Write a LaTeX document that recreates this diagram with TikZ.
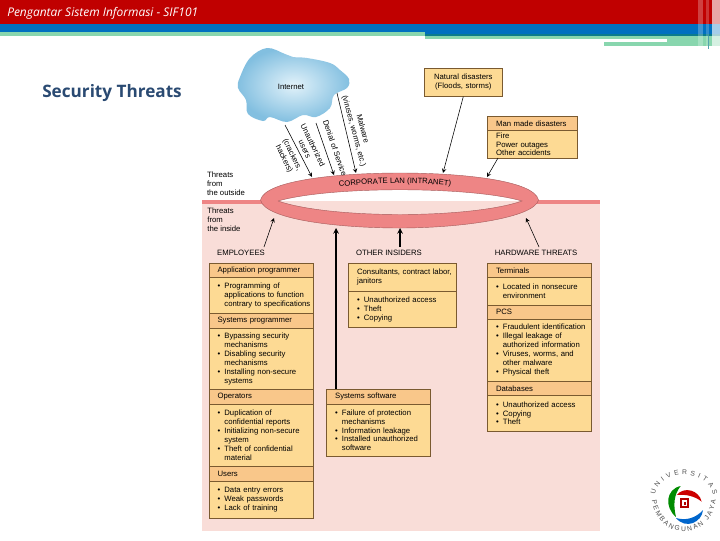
\documentclass[tikz,border=0pt]{standalone}
\usepackage{fontspec}
\setmainfont{Liberation Sans}
\newfontfamily\titlefont{Open Sans}
\usetikzlibrary{decorations.text}
\definecolor{barred}{HTML}{C00000}
\definecolor{barblue}{HTML}{0070C0}
\definecolor{barteal}{HTML}{0B7C8C}
\definecolor{bargreen}{HTML}{88D6AE}
\definecolor{titleblue}{HTML}{2A4A72}
\definecolor{pinkbg}{HTML}{F9DDD8}
\definecolor{ringfill}{HTML}{EE8585}
\definecolor{hdrfill}{HTML}{F9C78A}
\definecolor{bodyfill}{HTML}{FDDA94}
\definecolor{boxedge}{HTML}{7A5A30}
\definecolor{cloudin}{HTML}{E2F2FA}
\definecolor{cloudout}{HTML}{82BFE0}
\newcommand{\boxfont}{\fontsize{5.5}{6.35}\selectfont\hyphenpenalty=10000 }
\newcommand{\logofont}{\fontsize{4.8}{5.5}\selectfont\color{black!70}}
\newcommand{\bare}{\hspace*{.17cm}}
\newcommand{\bitem}{\bare\makebox[.17cm][l]{\textbullet}}
\newcommand{\cont}{\hspace*{.34cm}}
\tikzset{
  bodyrow/.style={draw=boxedge,fill=bodyfill,anchor=north west,font=\boxfont,align=left,inner ysep=0pt,inner xsep=.05cm,text width=#1},
  hdrrow/.style={bodyrow=#1,fill=hdrfill,execute at begin node=\bare},
  plainlabel/.style={font=\boxfont,align=left,inner sep=0pt},
  grouplabel/.style={font=\boxfont,inner sep=0pt},
}
\begin{document}
\begin{tikzpicture}[x=0.025cm,y=-0.025cm,>=stealth]
\useasboundingbox (0,0) rectangle (720,540);
\fill[white] (0,0) rectangle (720,540);
\fill[barred] (0,0) rectangle (720,24);
\fill[barblue] (0,24) rectangle (720,34);
\fill[bargreen] (0,32) rectangle (425,36);
\fill[barteal] (425,34) rectangle (720,36);
\fill[bargreen] (425,36) rectangle (667,39);
\fill[bargreen] (604,42) rectangle (667,46);
\fill[bargreen] (667,36) rectangle (720,46);
\fill[white,opacity=.25] (698,0) rectangle (703,46);
\fill[white,opacity=.2] (706,0) rectangle (709,46);
\fill[white,opacity=.65] (712,0) rectangle (720,46);
\fill[barteal!70] (707.5,36) rectangle (709,49);
\node[text=white,inner sep=0pt,anchor=west,font=\titlefont\itshape\fontsize{8.5}{10}\selectfont] (headline) at (7,13) {Pengantar Sistem Informasi - SIF101};
\node[text=titleblue,inner sep=0pt,anchor=west,font=\titlefont\bfseries\fontsize{12.2}{14}\selectfont] (slidetitle) at (42,93) {Security Threats};
\fill[pinkbg] (202,200) rectangle (600,531);
\fill[white] (270,190) rectangle (530,200.5);
\fill[ringfill] (202,200) rectangle (265,204);
\fill[ringfill] (535,200) rectangle (600,204);
\shade[inner color=cloudin,outer color=cloudout] plot[smooth cycle,tension=.6] coordinates
  {(240,77) (250,58) (267,48) (285,54) (293,57) (307,58) (330,63) (340,70) (349,79) (347,88) (334,95) (330,108) (316,117) (303,115) (287,122) (270,117) (263,121) (248,114) (246,100) (238,88)};
\node[grouplabel] (internet) at (291,87) {Internet};
\fill[ringfill,draw=ringfill!70!black,line width=.3pt,even odd rule]
  (260.5,200) .. controls (265,180) and (340,173) .. (400,173) .. controls (460,173) and (534,180) .. (538.5,200)
  .. controls (534,218) and (460,228) .. (400,228) .. controls (340,228) and (265,220) .. (260.5,200)
  (278,201) .. controls (330,186) and (470,186) .. (522,201) .. controls (470,219) and (330,219) .. (278,201);
\path[decorate,decoration={text along path,text align=center,text={|\boxfont|CORPORATE LAN (INTRANET)}}]
  (338,187) .. controls (375,183) and (415,182) .. (452,186);
\coordinate (hackstart) at (285,125);
\coordinate (hackend) at (312,177);
\coordinate (denialstart) at (316,123);
\coordinate (denialend) at (334,175);
\coordinate (malstart) at (337,93);
\coordinate (malend) at (356,173);
\draw[->] (hackstart) -- (hackend);
\draw[->] (denialstart) -- (denialend);
\draw[->] (malstart) -- (malend);
\node[plainlabel,align=center,rotate=-64] (hacklabel) at (309,147) {Unauthorized\\users};
\node[plainlabel,align=center,rotate=-64] (crackers) at (288,157) {(crackers,\\hackers)};
\node[plainlabel,align=center,rotate=-71] (denial) at (335,148) {Denial of Service};
\node[plainlabel,align=center,rotate=-75] (malware) at (358,130) {Malware\\(viruses, worms, etc.)};
\node[plainlabel] (outside) at (226,184) {Threats\\from\\the outside};
\node[plainlabel] (inside) at (224,220) {Threats\\from\\the inside};
\node[grouplabel] (employees) at (241,253) {EMPLOYEES};
\node[grouplabel] (insiders) at (389,253) {OTHER INSIDERS};
\node[grouplabel] (hardware) at (536,253) {HARDWARE THREATS};
\node[bodyrow=1.85cm,align=center,minimum height=.7cm] (natural) at (424,68) {Natural disasters\\(Floods, storms)};
\node[hdrrow=2.15cm,minimum height=.35cm] (manhdr) at (487,116) {Man made disasters};
\node[bodyrow=2.15cm,minimum height=.7cm] (manbody) at (487,130) {\bare Fire\\\bare Power outages\\\bare Other accidents};
\node[hdrrow=2.5cm,minimum height=.35cm] (apphdr) at (208.5,263) {Application programmer};
\node[bodyrow=2.5cm,minimum height=.9cm] (appbody) at (208.5,277) {\bitem Programming of\\\cont applications to function\\\cont contrary to specifications};
\node[hdrrow=2.5cm,minimum height=.375cm] (syshdr) at (208.5,313) {Systems programmer};
\node[bodyrow=2.5cm,minimum height=1.525cm] (sysbody) at (208.5,328) {\bitem Bypassing security\\\cont mechanisms\\\bitem Disabling security\\\cont mechanisms\\\bitem Installing non-secure\\\cont systems};
\node[hdrrow=2.5cm,minimum height=.375cm] (ophdr) at (208.5,389) {Operators};
\node[bodyrow=2.5cm,minimum height=1.55cm] (opbody) at (208.5,404) {\bitem Duplication of\\\cont confidential reports\\\bitem Initializing non-secure\\\cont system\\\bitem Theft of confidential\\\cont material};
\node[hdrrow=2.5cm,minimum height=.375cm] (userhdr) at (208.5,466) {Users};
\node[bodyrow=2.5cm,minimum height=.925cm] (userbody) at (208.5,481) {\bitem Data entry errors\\\bitem Weak passwords\\\bitem Lack of training};
\node[bodyrow=2.6cm,minimum height=.7cm] (otherhdr) at (348,263) {\bare Consultants, contract labor,\\\bare janitors};
\node[bodyrow=2.6cm,minimum height=.9cm] (otherbody) at (348,291) {\bitem Unauthorized access\\\bitem Theft\\\bitem Copying};
\node[hdrrow=2.5cm,minimum height=.375cm] (softhdr) at (326,389) {Systems software};
\node[bodyrow=2.5cm,minimum height=1.3cm] (softbody) at (326,404) {\bitem Failure of protection\\\cont mechanisms\\\bitem Information leakage\\\bitem Installed unauthorized\\\cont software};
\node[hdrrow=2.5cm,minimum height=.35cm] (termhdr) at (487,263) {Terminals};
\node[bodyrow=2.5cm,minimum height=.7cm] (termbody) at (487,277) {\bitem Located in nonsecure\\\cont environment};
\node[hdrrow=2.5cm,minimum height=.35cm] (pcshdr) at (487,305) {PCS};
\node[bodyrow=2.5cm,minimum height=1.55cm] (pcsbody) at (487,319) {\bitem Fraudulent identification\\\bitem Illegal leakage of\\\cont authorized information\\\bitem Viruses, worms, and\\\cont other malware\\\bitem Physical theft};
\node[hdrrow=2.5cm,minimum height=.35cm] (dbhdr) at (487,381) {Databases};
\node[bodyrow=2.5cm,minimum height=.9cm] (dbbody) at (487,395) {\bitem Unauthorized access\\\bitem Copying\\\bitem Theft};
\coordinate (natend) at (443,173);
\coordinate (manstart) at (498,158);
\coordinate (manend) at (487,177);
\coordinate (empstart) at (264,247);
\coordinate (empend) at (274,218);
\coordinate (otherstart) at (400,247);
\coordinate (otherend) at (400,228);
\coordinate (hardstart) at (539,247);
\coordinate (hardend) at (526,218);
\coordinate (softstart) at (336,389);
\coordinate (softend) at (336,228);
\draw[->] (natural.south) -- (natend);
\draw[->] (manstart) -- (manend);
\draw[->] (empstart) -- (empend);
\draw[->,line width=.8pt] (otherstart) -- (otherend);
\draw[->] (hardstart) -- (hardend);
\draw[->,line width=.8pt] (softstart) -- (softend);
\path[decorate,decoration={text along path,text align=fit to path,text={|\logofont|UNIVERSITAS}}]
  (655,495) .. controls (660,468) and (708,468) .. (713,495);
\path[decorate,decoration={text along path,text align=fit to path,text={|\logofont|PEMBANGUNAN JAYA}}]
  (652,500) .. controls (658,542) and (710,542) .. (716,500);
\fill[green!55!black] (680.7,486) .. controls (666,489) and (664,507) .. (676,517) .. controls (673,505) and (674,494) .. (680.7,486);
\fill[blue!50!cyan!80!black] (676,518) .. controls (686,530) and (702,522) .. (703,510) .. controls (696,518) and (686,521) .. (676,518);
\fill[red!80!black] (676.7,495) .. controls (684,486) and (699,490) .. (701.7,501.7) .. controls (695,496) and (685,494) .. (676.7,495);
\fill[red!70!black] (680,498) rectangle (689,508);
\fill[white] (682,500) rectangle (687,506);
\fill[red!70!black] (683.5,501.5) rectangle (685.5,504.5);
\end{tikzpicture}
\end{document}
